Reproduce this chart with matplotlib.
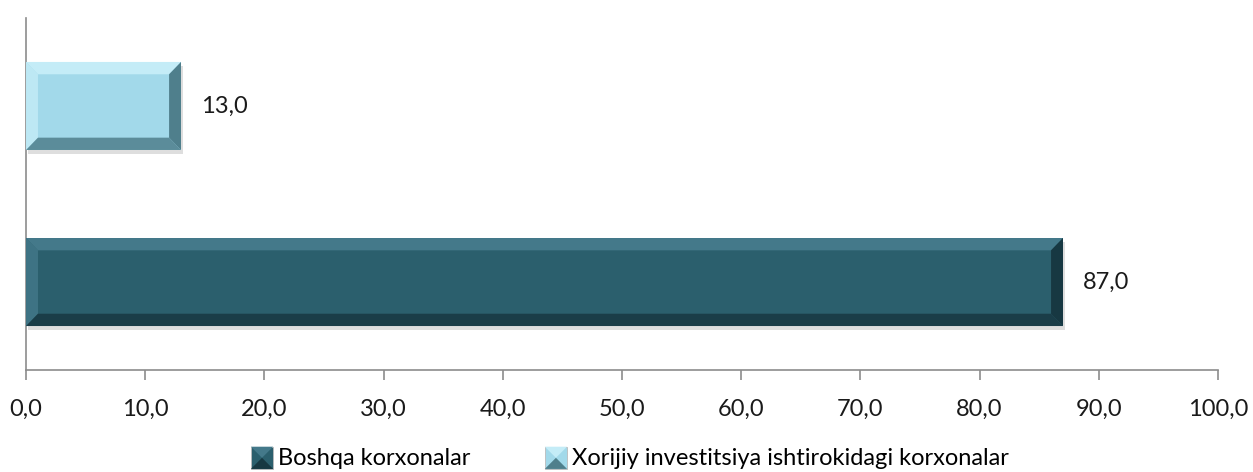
import matplotlib.pyplot as plt
from matplotlib.patches import Polygon, Rectangle
from matplotlib.legend_handler import HandlerBase

plt.rcParams['font.family'] = ['Lato', 'DejaVu Sans']

# data
categories = ['Boshqa korxonalar', 'Xorijiy investitsiya ishtirokidagi korxonalar']
values = [87.0, 13.0]
colors = ['#2b5f6d', '#a2d9ea']
light_edge = ['#44798a', '#c4ecf7']
dark_edge = ['#173842', '#4f7f8c']
x_ticks = [0, 10, 20, 30, 40, 50, 60, 70, 80, 90, 100]


def bevel(ax, x0, y0, w, h, base, hi, lo, bx, by, z=3):
    x1, y1 = x0 + w, y0 + h
    ax.add_patch(Rectangle((x0, y0), w, h, facecolor=base, edgecolor='none', zorder=z))
    # top (light)
    ax.add_patch(Polygon([(x0, y1), (x1, y1), (x1 - bx, y1 - by), (x0 + bx, y1 - by)],
                         facecolor=hi, edgecolor='none', zorder=z + 1))
    # left (light)
    ax.add_patch(Polygon([(x0, y0), (x0, y1), (x0 + bx, y1 - by), (x0 + bx, y0 + by)],
                         facecolor=hi, edgecolor='none', zorder=z + 1, alpha=0.8))
    # right (dark)
    ax.add_patch(Polygon([(x1, y0), (x1, y1), (x1 - bx, y1 - by), (x1 - bx, y0 + by)],
                         facecolor=lo, edgecolor='none', zorder=z + 1))
    # bottom (dark)
    ax.add_patch(Polygon([(x0, y0), (x1, y0), (x1 - bx, y0 + by), (x0 + bx, y0 + by)],
                         facecolor=lo, edgecolor='none', zorder=z + 1, alpha=0.85))


fig = plt.figure(figsize=(12.53, 4.72), dpi=100)
ax = fig.add_axes([0.0208, 0.216, 0.9512, 0.746])

pos = list(range(len(values)))
bar_h = 0.5
bars = ax.barh(pos, values, height=bar_h, color=colors, zorder=2)
for i, b in enumerate(bars):
    x0, y0, w, h = b.get_x(), b.get_y(), b.get_width(), b.get_height()
    # soft shadow
    ax.add_patch(Rectangle((x0 + 0.2, y0 - 0.025), w, h, facecolor='#c8c8c8',
                           edgecolor='none', zorder=1, alpha=0.6))
    bevel(ax, x0, y0, w, h, colors[i], light_edge[i], dark_edge[i], 1.0, 0.07)
    ax.text(x0 + w + 1.7, y0 + h / 2, f'{values[i]:.1f}'.replace('.', ','),
            va='center', ha='left', fontsize=17, color='#1a1a1a')

ax.set_xlim(0, 100)
ax.set_ylim(-0.5, 1.5)
ax.set_xticks(x_ticks)
ax.set_xticklabels([f'{t:.1f}'.replace('.', ',') for t in x_ticks], fontsize=17, color='#1a1a1a')
ax.set_yticks([])
for s in ['top', 'right']:
    ax.spines[s].set_visible(False)
for s in ['left', 'bottom']:
    ax.spines[s].set_color('#8c8c8c')
    ax.spines[s].set_linewidth(1.2)
ax.tick_params(axis='x', length=7, width=1.2, color='#8c8c8c', pad=14)


class BevelHandler(HandlerBase):
    def __init__(self, i):
        super().__init__()
        self.i = i

    def create_artists(self, legend, orig, xd, yd, width, height, fontsize, trans):
        s = 16
        x0 = width - s
        y0 = (height - s) / 2 - 1
        arts = [Rectangle((x0, y0), s, s, facecolor=colors[self.i], edgecolor='#bbbbbb',
                          lw=0.6, transform=trans)]
        arts.append(Polygon([(x0, y0 + s), (x0 + s, y0 + s), (x0 + s / 2, y0 + s / 2)],
                            facecolor=light_edge[self.i], transform=trans))
        arts.append(Polygon([(x0, y0), (x0 + s, y0), (x0 + s / 2, y0 + s / 2)],
                            facecolor=dark_edge[self.i], transform=trans))
        return arts


handles = [Rectangle((0, 0), 1, 1), Rectangle((0, 0), 1, 1)]
fig.legend(handles, categories, loc='lower center', bbox_to_anchor=(0.503, -0.038), ncol=2,
           frameon=False, fontsize=17, handlelength=0.9, handletextpad=0.2, columnspacing=3.2,
           handler_map={handles[0]: BevelHandler(0), handles[1]: BevelHandler(1)})

fig.savefig('out.png', dpi=100)
